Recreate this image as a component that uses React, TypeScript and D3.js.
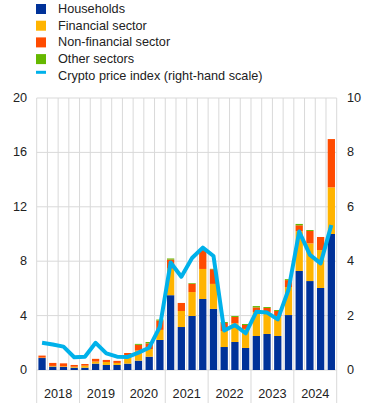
import React from 'react';
import * as d3 from 'd3';

// Quarterly data, 2018 Q1 - 2024 Q4
const years = ['2018', '2019', '2020', '2021', '2022', '2023', '2024'];
const quarters = years.flatMap(y => ['Q1', 'Q2', 'Q3', 'Q4'].map(q => `${y}${q}`));

const households = [0.88, 0.25, 0.22, 0.17, 0.17, 0.47, 0.37, 0.37, 0.47, 0.69, 0.98, 2.21, 5.5, 3.16, 3.97, 5.22, 4.49, 1.69, 2.06, 1.62, 2.5, 2.65, 2.5, 4.04, 7.28, 6.54, 6.03, 10.0];
const financial = [0.03, 0.05, 0.05, 0.07, 0.15, 0.15, 0.22, 0.15, 0.56, 0.74, 0.56, 0.74, 1.95, 1.18, 1.76, 2.21, 1.84, 1.18, 1.37, 1.4, 1.76, 1.62, 1.47, 2.06, 2.92, 2.77, 2.79, 3.43];
const nonFinancial = [0.15, 0.22, 0.22, 0.13, 0.12, 0.2, 0.15, 0.15, 0.22, 0.42, 0.42, 0.69, 0.67, 0.59, 0.61, 1.39, 1.08, 0.59, 0.47, 0.29, 0.34, 0.29, 0.37, 0.51, 0.44, 0.91, 0.96, 3.55];
const otherSectors = [0, 0, 0, 0, 0, 0, 0, 0, 0, 0.07, 0.1, 0.07, 0.08, 0, 0.05, 0.03, 0.03, 0.07, 0.07, 0.07, 0.1, 0.07, 0.07, 0.07, 0.1, 0.07, 0, 0];
const cryptoIndex = [1.0, 0.94, 0.86, 0.47, 0.49, 1.0, 0.61, 0.49, 0.48, 0.64, 0.82, 1.59, 3.95, 3.43, 4.12, 4.5, 4.19, 1.45, 1.65, 1.35, 2.14, 2.11, 1.86, 2.95, 5.09, 4.23, 3.92, 5.33];

const leftTicks = [0, 4, 8, 12, 16, 20];
const rightTicks = [0, 2, 4, 6, 8, 10];

const series = [
  { name: 'Households', color: '#003299', values: households },
  { name: 'Financial sector', color: '#ffb400', values: financial },
  { name: 'Non-financial sector', color: '#ff4b00', values: nonFinancial },
  { name: 'Other sectors', color: '#65b800', values: otherSectors },
];
const lineColor = '#00b1ea';
const lineName = 'Crypto price index (right-hand scale)';

const W = 370;
const H = 406;
const left = 36.7;
const right = 336.7;
const top = 98;
const bottom = 370;
const font = '"Liberation Sans", Arial, sans-serif';
const textColor = '#222';
const gridColor = '#d9d9d9';

const App = () => {
  const x = d3.scaleBand<string>().domain(quarters).range([left, right]).paddingInner(0.32).paddingOuter(0.16);
  const step = x.step();
  const yL = d3.scaleLinear().domain([0, 20]).range([bottom, top]);
  const yR = d3.scaleLinear().domain([0, 10]).range([bottom, top]);

  const rows = quarters.map((q, i) => {
    const r: any = { q };
    series.forEach(s => { r[s.name] = s.values[i]; });
    return r;
  });
  const stacked = d3.stack<any>().keys(series.map(s => s.name))(rows);

  const line = d3.line<number>()
    .x((_, i) => (x(quarters[i]) as number) + x.bandwidth() / 2)
    .y(d => yR(d));

  const legendItems = [...series.map(s => ({ name: s.name, color: s.color, isLine: false })), { name: lineName, color: lineColor, isLine: true }];

  return (
    <svg width={W} height={H} style={{ position: 'absolute', left: 0, top: 0, background: '#fff' }} fontFamily={font}>
      {/* legend */}
      {legendItems.map((d, i) => {
        const cy = 9 + i * 16.7;
        return (
          <g key={d.name}>
            {d.isLine
              ? <rect x={36} y={cy - 5} width={10} height={3} fill={d.color} />
              : <rect x={36} y={cy - 5} width={10} height={10} fill={d.color} />}
            <text x={58} y={cy} dominantBaseline="central" fontSize={12.7} fill={textColor}>{d.name}</text>
          </g>
        );
      })}

      {/* grid */}
      {leftTicks.map(t => (
        <line key={t} x1={left} x2={right} y1={yL(t)} y2={yL(t)} stroke={gridColor} strokeWidth={1} />
      ))}
      {d3.range(quarters.length + 1).map(i => (
        <line key={i} x1={left + i * step} x2={left + i * step} y1={top} y2={bottom} stroke={gridColor} strokeWidth={1} />
      ))}
      {d3.range(years.length + 1).map(i => (
        <line key={i} x1={left + i * 4 * step} x2={left + i * 4 * step} y1={bottom} y2={403} stroke={gridColor} strokeWidth={1} />
      ))}

      {/* bars */}
      {stacked.map((layer, si) => (
        <g key={layer.key} fill={series[si].color}>
          {layer.map((d, i) => (
            d[1] - d[0] > 0 ? (
              <rect key={i} x={x(quarters[i])} y={yL(d[1])} width={x.bandwidth()} height={yL(d[0]) - yL(d[1])} />
            ) : null
          ))}
        </g>
      ))}

      {/* crypto line */}
      <path d={line(cryptoIndex) || undefined} fill="none" stroke={lineColor} strokeWidth={4} strokeLinejoin="round" />

      {/* axes labels */}
      {leftTicks.map(t => (
        <text key={t} x={27} y={yL(t)} textAnchor="end" dominantBaseline="central" fontSize={12.7} fill={textColor}>{t}</text>
      ))}
      {rightTicks.map(t => (
        <text key={t} x={347} y={yR(t)} textAnchor="start" dominantBaseline="central" fontSize={12.7} fill={textColor}>{t}</text>
      ))}
      {years.map((y, i) => (
        <text key={y} x={left + (i * 4 + 2) * step} y={393.5} textAnchor="middle" dominantBaseline="central" fontSize={12.7} fill={textColor}>{y}</text>
      ))}
    </svg>
  );
};

export default App;
